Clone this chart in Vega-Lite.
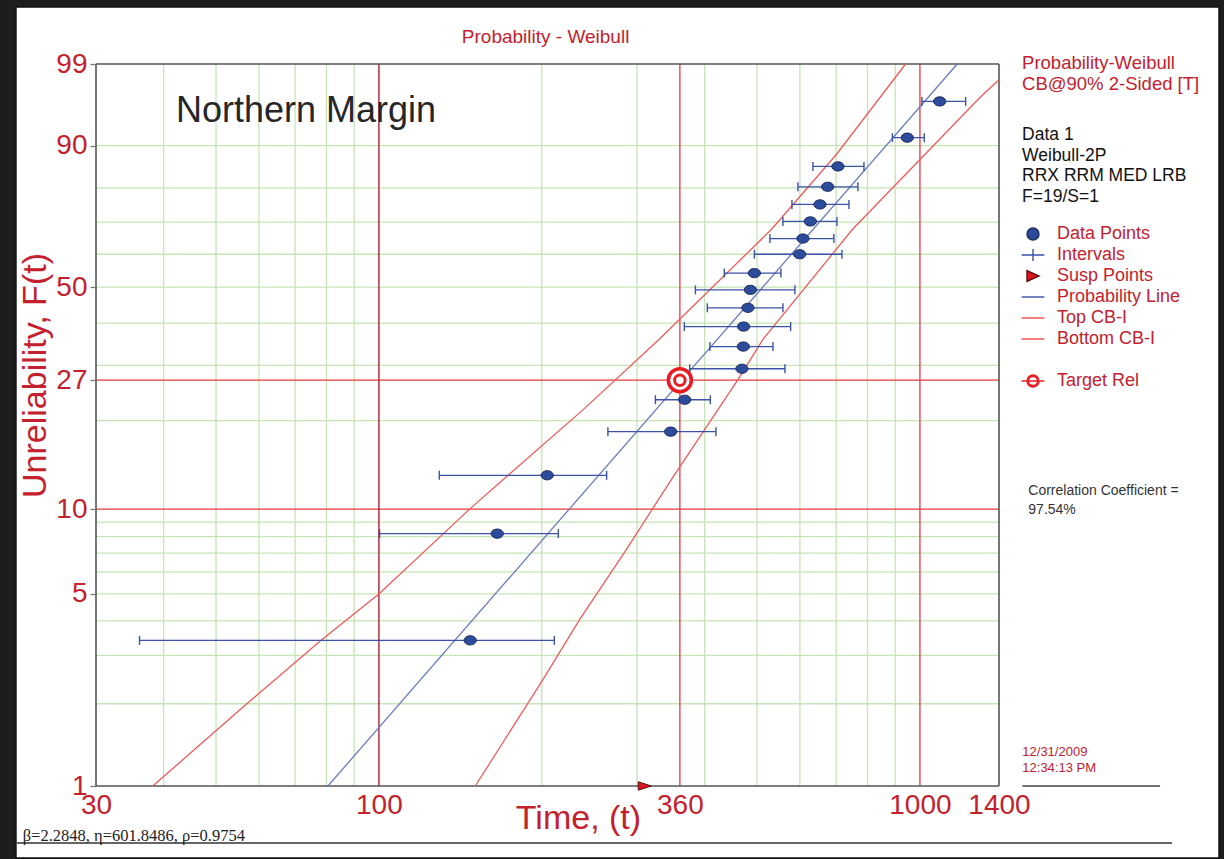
{
  "$schema": "https://vega.github.io/schema/vega-lite/v6.json",
  "width": 903,
  "height": 722,
  "autosize": {"type": "none"},
  "padding": {"left": 96, "top": 64, "right": 225, "bottom": 73},
  "background": "#1d1d1d",
  "datasets": {
    "pts": [
      {"t": 147.5, "F": 3.4, "lo": 36.1, "hi": 211.0},
      {"t": 165.5, "F": 8.2, "lo": 100.3, "hi": 214.6},
      {"t": 204.7, "F": 13.1, "lo": 129.3, "hi": 263.6},
      {"t": 346.1, "F": 18.4, "lo": 265.0, "hi": 419.7},
      {"t": 367.4, "F": 23.4, "lo": 324.4, "hi": 409.8},
      {"t": 468.8, "F": 29.3, "lo": 375.3, "hi": 563.0},
      {"t": 471.6, "F": 34.2, "lo": 409.1, "hi": 535.0},
      {"t": 472.1, "F": 39.1, "lo": 366.9, "hi": 576.8},
      {"t": 480.9, "F": 44.1, "lo": 404.6, "hi": 558.2},
      {"t": 486.0, "F": 49.2, "lo": 384.6, "hi": 587.4},
      {"t": 494.3, "F": 54.2, "lo": 434.9, "hi": 553.5},
      {"t": 599.4, "F": 60.0, "lo": 494.3, "hi": 717.5},
      {"t": 607.8, "F": 64.9, "lo": 528.1, "hi": 693.4},
      {"t": 627.3, "F": 70.2, "lo": 558.2, "hi": 702.4},
      {"t": 653.5, "F": 75.3, "lo": 580.0, "hi": 739.3},
      {"t": 675.2, "F": 80.3, "lo": 595.0, "hi": 768.1},
      {"t": 705.4, "F": 85.5, "lo": 634.2, "hi": 788.0},
      {"t": 947.7, "F": 91.5, "lo": 889.2, "hi": 1018.8},
      {"t": 1087.6, "F": 96.5, "lo": 1008.5, "hi": 1214.8}
    ],
    "curves": [
      {"series": "Top CB-I", "t": 38.2, "F": 1},
      {"series": "Top CB-I", "t": 57.0, "F": 2.0},
      {"series": "Top CB-I", "t": 78.2, "F": 3.4},
      {"series": "Top CB-I", "t": 100, "F": 5.0},
      {"series": "Top CB-I", "t": 147.1, "F": 10},
      {"series": "Top CB-I", "t": 238.3, "F": 21.7},
      {"series": "Top CB-I", "t": 329.4, "F": 35.9},
      {"series": "Top CB-I", "t": 531.3, "F": 67.7},
      {"series": "Top CB-I", "t": 700.7, "F": 88.2},
      {"series": "Top CB-I", "t": 940.9, "F": 99},
      {"series": "Bottom CB-I", "t": 150.7, "F": 1},
      {"series": "Bottom CB-I", "t": 201, "F": 2.45},
      {"series": "Bottom CB-I", "t": 234.9, "F": 4.04},
      {"series": "Bottom CB-I", "t": 286.6, "F": 7.2},
      {"series": "Bottom CB-I", "t": 347.1, "F": 12.65},
      {"series": "Bottom CB-I", "t": 460.9, "F": 27.1},
      {"series": "Bottom CB-I", "t": 512.7, "F": 35.9},
      {"series": "Bottom CB-I", "t": 750, "F": 67.7},
      {"series": "Bottom CB-I", "t": 1289.5, "F": 96.85},
      {"series": "Bottom CB-I", "t": 1398.5, "F": 98.2},
      {"series": "Probability Line", "t": 80.5, "F": 1},
      {"series": "Probability Line", "t": 1172, "F": 99}
    ],
    "hgrid": [
      {"F": 2, "kind": "minor"}, {"F": 3, "kind": "minor"}, {"F": 4, "kind": "minor"},
      {"F": 5, "kind": "minor"}, {"F": 6, "kind": "minor"}, {"F": 7, "kind": "minor"},
      {"F": 8, "kind": "minor"}, {"F": 9, "kind": "minor"}, {"F": 20, "kind": "minor"},
      {"F": 30, "kind": "minor"}, {"F": 40, "kind": "minor"}, {"F": 50, "kind": "minor"},
      {"F": 60, "kind": "minor"}, {"F": 70, "kind": "minor"}, {"F": 80, "kind": "minor"},
      {"F": 90, "kind": "minor"},
      {"F": 10, "kind": "major"}, {"F": 27, "kind": "major"},
      {"F": 1, "kind": "border"}, {"F": 99, "kind": "border"}
    ],
    "vgrid": [
      {"t": 40, "kind": "minor"}, {"t": 50, "kind": "minor"}, {"t": 60, "kind": "minor"},
      {"t": 70, "kind": "minor"}, {"t": 80, "kind": "minor"}, {"t": 90, "kind": "minor"},
      {"t": 200, "kind": "minor"}, {"t": 300, "kind": "minor"}, {"t": 400, "kind": "minor"},
      {"t": 500, "kind": "minor"}, {"t": 600, "kind": "minor"}, {"t": 700, "kind": "minor"},
      {"t": 800, "kind": "minor"}, {"t": 900, "kind": "minor"},
      {"t": 360, "kind": "major"}, {"t": 1000, "kind": "major"},
      {"t": 100, "kind": "decade"},
      {"t": 30, "kind": "border"}, {"t": 1400, "kind": "border"}
    ],
    "susp": [{"t": 310, "F": 1}],
    "target": [{"t": 360, "F": 27}],
    "entries": [{"entry": "Data Points"}],
    "one": [{}]
  },
  "layer": [
    {
      "data": {"name": "one"},
      "mark": {"type": "rect", "fill": "white", "stroke": "#111111", "strokeWidth": 1.5},
      "encoding": {
        "x": {"datum": 21.34, "type": "quantitative", "scale": {"type": "log", "domain": [30, 1400], "nice": false},
              "axis": {"values": [30, 100, 360, 1000, 1400], "format": "d", "title": "Time, (t)", "zindex": 2}},
        "x2": {"datum": 3571},
        "y": {"datum": 7.4708, "type": "quantitative", "scale": {"type": "log", "domain": [0.01005033585, 4.605170186], "nice": false},
              "axis": {"values": [0.01005033585, 0.05129329439, 0.1053605157, 0.3147107448, 0.6931471806, 2.302585093, 4.605170186],
                       "labelExpr": "round((1 - exp(-datum.value)) * 100)", "title": "Unreliability, F(t)", "zindex": 2}},
        "y2": {"datum": 0.0054541}
      }
    },
    {
      "data": {"name": "hgrid"},
      "transform": [{"filter": "datum.kind == 'minor'"}, {"calculate": "-log(1 - datum.F / 100)", "as": "h"}],
      "mark": {"type": "rule", "color": "#c6e4b5", "strokeWidth": 1.3},
      "encoding": {"y": {"field": "h", "type": "quantitative", "title": "Unreliability, F(t)"}}
    },
    {
      "data": {"name": "vgrid"},
      "transform": [{"filter": "datum.kind == 'minor'"}],
      "mark": {"type": "rule", "color": "#c6e4b5", "strokeWidth": 1.3},
      "encoding": {"x": {"field": "t", "type": "quantitative", "title": "Time, (t)"}}
    },
    {
      "data": {"name": "hgrid"},
      "transform": [{"filter": "datum.kind == 'major'"}, {"calculate": "-log(1 - datum.F / 100)", "as": "h"}],
      "mark": {"type": "rule", "color": "#e8383d", "strokeWidth": 1.3},
      "encoding": {"y": {"field": "h", "type": "quantitative", "title": "Unreliability, F(t)"}}
    },
    {
      "data": {"name": "vgrid"},
      "transform": [{"filter": "datum.kind == 'major'"}],
      "mark": {"type": "rule", "color": "#e8383d", "strokeWidth": 1.3},
      "encoding": {"x": {"field": "t", "type": "quantitative", "title": "Time, (t)"}}
    },
    {
      "data": {"name": "vgrid"},
      "transform": [{"filter": "datum.kind == 'decade'"}],
      "mark": {"type": "rule", "color": "#a82234", "strokeWidth": 1.4},
      "encoding": {"x": {"field": "t", "type": "quantitative", "title": "Time, (t)"}}
    },
    {
      "data": {"name": "hgrid"},
      "transform": [{"filter": "datum.kind == 'border'"}, {"calculate": "-log(1 - datum.F / 100)", "as": "h"}],
      "mark": {"type": "rule", "color": "#555555", "strokeWidth": 1.6},
      "encoding": {"y": {"field": "h", "type": "quantitative", "title": "Unreliability, F(t)"}}
    },
    {
      "data": {"name": "vgrid"},
      "transform": [{"filter": "datum.kind == 'border'"}],
      "mark": {"type": "rule", "color": "#555555", "strokeWidth": 1.6},
      "encoding": {"x": {"field": "t", "type": "quantitative", "title": "Time, (t)"}}
    },
    {
      "data": {"name": "curves"},
      "transform": [{"filter": "datum.series != 'Probability Line'"}, {"calculate": "-log(1 - datum.F / 100)", "as": "h"}],
      "mark": {"type": "line", "color": "#f25a5a", "strokeWidth": 1.3},
      "encoding": {
        "x": {"field": "t", "type": "quantitative", "title": "Time, (t)"},
        "y": {"field": "h", "type": "quantitative", "title": "Unreliability, F(t)"},
        "detail": {"field": "series", "type": "nominal"}
      }
    },
    {
      "data": {"name": "curves"},
      "transform": [{"filter": "datum.series == 'Probability Line'"}, {"calculate": "-log(1 - datum.F / 100)", "as": "h"}],
      "mark": {"type": "line", "color": "#6c7bc2", "strokeWidth": 1.3},
      "encoding": {
        "x": {"field": "t", "type": "quantitative", "title": "Time, (t)"},
        "y": {"field": "h", "type": "quantitative", "title": "Unreliability, F(t)"}
      }
    },
    {
      "data": {"name": "pts"},
      "transform": [{"calculate": "-log(1 - datum.F / 100)", "as": "h"}],
      "mark": {"type": "rule", "color": "#3a52a8", "strokeWidth": 1.3},
      "encoding": {
        "x": {"field": "lo", "type": "quantitative", "title": "Time, (t)"},
        "x2": {"field": "hi"},
        "y": {"field": "h", "type": "quantitative", "title": "Unreliability, F(t)"}
      }
    },
    {
      "data": {"name": "pts"},
      "transform": [{"calculate": "-log(1 - datum.F / 100)", "as": "h"}],
      "mark": {"type": "point", "shape": "M0,-1V1", "size": 81, "filled": false, "color": "#3a52a8", "strokeWidth": 1.4, "opacity": 1},
      "encoding": {
        "x": {"field": "lo", "type": "quantitative", "title": "Time, (t)"},
        "y": {"field": "h", "type": "quantitative", "title": "Unreliability, F(t)"}
      }
    },
    {
      "data": {"name": "pts"},
      "transform": [{"calculate": "-log(1 - datum.F / 100)", "as": "h"}],
      "mark": {"type": "point", "shape": "M0,-1V1", "size": 81, "filled": false, "color": "#3a52a8", "strokeWidth": 1.4, "opacity": 1},
      "encoding": {
        "x": {"field": "hi", "type": "quantitative", "title": "Time, (t)"},
        "y": {"field": "h", "type": "quantitative", "title": "Unreliability, F(t)"}
      }
    },
    {
      "data": {"name": "pts"},
      "transform": [{"calculate": "-log(1 - datum.F / 100)", "as": "h"}],
      "mark": {"type": "point", "shape": "M-1,0A1,0.75,0,1,0,1,0A1,0.75,0,1,0,-1,0Z", "size": 150, "filled": true,
               "fill": "#2d4b9b", "stroke": "#1b2a5e", "strokeWidth": 1, "opacity": 1},
      "encoding": {
        "x": {"field": "t", "type": "quantitative", "title": "Time, (t)"},
        "y": {"field": "h", "type": "quantitative", "title": "Unreliability, F(t)"}
      }
    },
    {
      "data": {"name": "target"},
      "transform": [{"calculate": "-log(1 - datum.F / 100)", "as": "h"}],
      "mark": {"type": "point", "shape": "circle", "size": 529, "filled": true, "fill": "white", "stroke": "#e81c24", "strokeWidth": 3.6, "opacity": 1},
      "encoding": {
        "x": {"field": "t", "type": "quantitative", "title": "Time, (t)"},
        "y": {"field": "h", "type": "quantitative", "title": "Unreliability, F(t)"}
      }
    },
    {
      "data": {"name": "target"},
      "transform": [{"calculate": "-log(1 - datum.F / 100)", "as": "h"}],
      "mark": {"type": "point", "shape": "circle", "size": 110, "filled": false, "stroke": "#e81c24", "strokeWidth": 3, "opacity": 1},
      "encoding": {
        "x": {"field": "t", "type": "quantitative", "title": "Time, (t)"},
        "y": {"field": "h", "type": "quantitative", "title": "Unreliability, F(t)"}
      }
    },
    {
      "data": {"name": "susp"},
      "transform": [{"calculate": "-log(1 - datum.F / 100)", "as": "h"}],
      "mark": {"type": "point", "shape": "M-1,-0.65L1,0L-1,0.65Z", "size": 169, "filled": true, "fill": "#e0141e", "stroke": "#5a1010", "strokeWidth": 1, "opacity": 1},
      "encoding": {
        "x": {"field": "t", "type": "quantitative", "title": "Time, (t)"},
        "y": {"field": "h", "type": "quantitative", "title": "Unreliability, F(t)"}
      }
    },
    {
      "data": {"name": "one"},
      "mark": {"type": "text", "text": "Probability - Weibull", "align": "center", "baseline": "alphabetic", "font": "Liberation Sans", "fontSize": 19, "color": "#c4212e"},
      "encoding": {"x": {"datum": 203.3, "type": "quantitative"}, "y": {"datum": 5.4897, "type": "quantitative"}}
    },
    {
      "data": {"name": "one"},
      "mark": {"type": "text", "text": "Northern Margin", "align": "left", "baseline": "alphabetic", "font": "Liberation Sans", "fontSize": 36, "color": "#262626"},
      "encoding": {"x": {"datum": 42.17, "type": "quantitative"}, "y": {"datum": 2.8222, "type": "quantitative"}}
    },
    {
      "data": {"name": "one"},
      "mark": {"type": "text", "text": ["Probability-Weibull", "CB@90% 2-Sided [T]"], "align": "left", "baseline": "alphabetic", "lineHeight": 21, "font": "Liberation Sans", "fontSize": 18.5, "color": "#c4212e"},
      "encoding": {"x": {"datum": 1544.4, "type": "quantitative"}, "y": {"datum": 4.4137, "type": "quantitative"}}
    },
    {
      "data": {"name": "one"},
      "mark": {"type": "text", "text": ["Data 1", "Weibull-2P", "RRX RRM MED LRB", "F=19/S=1"], "align": "left", "baseline": "alphabetic", "lineHeight": 20.7, "font": "Liberation Sans", "fontSize": 17.5, "color": "#111111"},
      "encoding": {"x": {"datum": 1544.4, "type": "quantitative"}, "y": {"datum": 2.4162, "type": "quantitative"}}
    },
    {
      "data": {"name": "one"},
      "mark": {"type": "text", "text": ["Correlation Coefficient =", "97.54%"], "align": "left", "baseline": "alphabetic", "lineHeight": 19.3, "font": "Liberation Sans", "fontSize": 14, "color": "#333333"},
      "encoding": {"x": {"datum": 1586.0, "type": "quantitative"}, "y": {"datum": 0.11875, "type": "quantitative"}}
    },
    {
      "data": {"name": "one"},
      "mark": {"type": "text", "text": ["12/31/2009", "12:34:13 PM"], "align": "left", "baseline": "alphabetic", "lineHeight": 15.7, "font": "Liberation Sans", "fontSize": 13, "color": "#c4212e"},
      "encoding": {"x": {"datum": 1546, "type": "quantitative"}, "y": {"datum": 0.012961, "type": "quantitative"}}
    },
    {
      "data": {"name": "one"},
      "mark": {"type": "rule", "color": "#444444", "strokeWidth": 1.5},
      "encoding": {"x": {"datum": 1546, "type": "quantitative"}, "x2": {"datum": 2778.5}, "y": {"datum": 0.01005033585, "type": "quantitative"}}
    },
    {
      "data": {"name": "one"},
      "mark": {"type": "rule", "color": "#333333", "strokeWidth": 1.5},
      "encoding": {"x": {"datum": 21.43, "type": "quantitative"}, "x2": {"datum": 2923.8}, "y": {"datum": 0.006196, "type": "quantitative"}}
    },
    {
      "data": {"name": "one"},
      "mark": {"type": "text", "text": "β=2.2848, η=601.8486, ρ=0.9754", "align": "left", "baseline": "alphabetic", "font": "Liberation Serif", "fontSize": 16.5, "color": "#222222"},
      "encoding": {"x": {"datum": 21.96, "type": "quantitative"}, "y": {"datum": 0.006302, "type": "quantitative"}}
    },
    {
      "data": {"name": "entries"},
      "transform": [{"filter": "false"}],
      "mark": {"type": "point", "filled": true},
      "encoding": {
        "shape": {
          "field": "entry", "type": "nominal",
          "scale": {
            "domain": ["Data Points", "Intervals", "Susp Points", "Probability Line", "Top CB-I", "Bottom CB-I", " ", "Target Rel"],
            "range": ["circle", "M-1.9,0H1.9M0,-1V1", "M-1,-0.9L1,0L-1,0.9Z", "M-1.9,0H1.9", "M-1.9,0H1.9", "M-1.9,0H1.9", "M0,0", "M-1.9,0H1.9M-1,0A1,1,0,1,0,1,0A1,1,0,1,0,-1,0ZM-0.75,0A0.75,0.75,0,1,0,0.75,0A0.75,0.75,0,1,0,-0.75,0Z"]
          },
          "legend": {"orient": "none", "legendX": 928, "legendY": 161, "title": null, "padding": 0,
                     "labelColor": "#c4212e", "labelFont": "Liberation Sans", "labelFontSize": 18, "labelLimit": 300,
                     "symbolSize": 144, "symbolStrokeWidth": 1.4, "symbolOpacity": 1, "rowPadding": 3, "labelOffset": 15}
        },
        "fill": {
          "field": "entry", "type": "nominal",
          "scale": {
            "domain": ["Data Points", "Intervals", "Susp Points", "Probability Line", "Top CB-I", "Bottom CB-I", " ", "Target Rel"],
            "range": ["#2d4b9b", "transparent", "#e0141e", "transparent", "transparent", "transparent", "transparent", "white"]
          },
          "legend": {"orient": "none", "legendX": 928, "legendY": 161, "title": null, "padding": 0,
                     "labelColor": "#c4212e", "labelFont": "Liberation Sans", "labelFontSize": 18, "labelLimit": 300,
                     "symbolSize": 144, "symbolStrokeWidth": 1.4, "symbolOpacity": 1, "rowPadding": 3, "labelOffset": 15}
        },
        "stroke": {
          "field": "entry", "type": "nominal",
          "scale": {
            "domain": ["Data Points", "Intervals", "Susp Points", "Probability Line", "Top CB-I", "Bottom CB-I", " ", "Target Rel"],
            "range": ["#1b2a5e", "#3a52a8", "#5a1010", "#3a52a8", "#f04848", "#f04848", "transparent", "#e81c24"]
          },
          "legend": {"orient": "none", "legendX": 928, "legendY": 161, "title": null, "padding": 0,
                     "labelColor": "#c4212e", "labelFont": "Liberation Sans", "labelFontSize": 18, "labelLimit": 300,
                     "symbolSize": 144, "symbolStrokeWidth": 1.4, "symbolOpacity": 1, "rowPadding": 3, "labelOffset": 15}
        }
      }
    }
  ],
  "config": {
    "view": {"stroke": null},
    "font": "Liberation Sans",
    "axis": {"grid": false, "domain": false, "labelFont": "Liberation Sans", "labelColor": "#c4212e", "labelFontSize": 28,
             "titleFont": "Liberation Sans", "titleColor": "#c4212e", "titleFontSize": 34, "titleFontWeight": "normal",
             "labelOverlap": false, "labelFlush": false},
    "axisY": {"ticks": true, "tickColor": "#777777", "tickSize": 6, "tickWidth": 1.3, "labelPadding": 3,
              "titleX": -51, "titleY": 311, "titleAngle": -90, "titleAlign": "center", "titleBaseline": "alphabetic"},
    "axisX": {"ticks": false, "labelBaseline": "alphabetic", "labelPadding": 27,
              "titleX": 482, "titleY": 42, "titleAlign": "center", "titleBaseline": "alphabetic"}
  }
}
